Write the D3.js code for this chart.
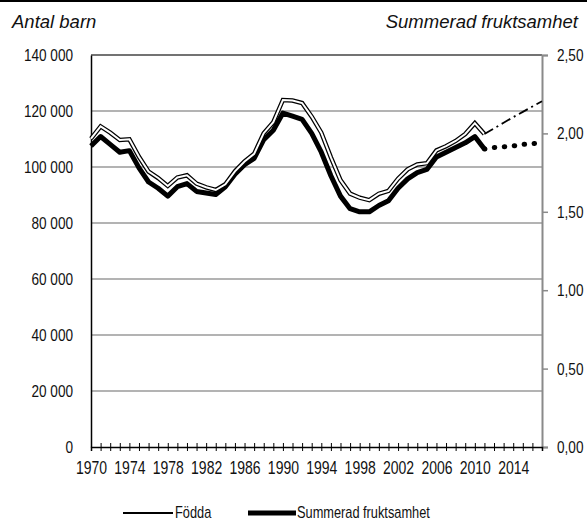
<!DOCTYPE html>
<html>
<head>
<meta charset="utf-8">
<script src="https://cdn.jsdelivr.net/npm/d3@7"></script>
<style>
  body { margin: 0; background: #fff; }
  text { font-family: "Liberation Sans", Arial, sans-serif; fill: #111; }
  .title { font-style: italic; font-size: 18.5px; }
</style>
</head>
<body>
<div id="chart"></div>
<script>
'use strict';

// utfall
const years = [1970, 1971, 1972, 1973, 1974, 1975, 1976, 1977, 1978, 1979,
               1980, 1981, 1982, 1983, 1984, 1985, 1986, 1987, 1988, 1989,
               1990, 1991, 1992, 1993, 1994, 1995, 1996, 1997, 1998, 1999,
               2000, 2001, 2002, 2003, 2004, 2005, 2006, 2007, 2008, 2009,
               2010, 2011];
const fodda = [110150, 114484, 112273, 109663, 109874, 103632, 98345, 96057, 93248, 96255,
               97064, 94065, 92748, 91780, 93819, 98463, 101950, 104699, 112080, 116023,
               123938, 123737, 122848, 117998, 112257, 103422, 95297, 90502, 89028, 88173,
               90441, 91466, 95815, 99157, 100928, 101346, 105913, 107421, 109301, 111801,
               115641, 111770];
const fruktsamhet = [1.92, 1.98, 1.93, 1.88, 1.89, 1.78, 1.69, 1.65, 1.60, 1.66,
                     1.68, 1.63, 1.62, 1.61, 1.66, 1.74, 1.80, 1.84, 1.96, 2.02,
                     2.13, 2.11, 2.09, 2.00, 1.88, 1.73, 1.60, 1.52, 1.50, 1.50,
                     1.54, 1.57, 1.65, 1.71, 1.75, 1.77, 1.85, 1.88, 1.91, 1.94,
                     1.98, 1.90];

// prognos
const prognosYears = [2011, 2012, 2013, 2014, 2015, 2016, 2017];
const foddaPrognos = [111770, 113800, 115800, 117800, 119700, 121600, 123500];
const fruktsamhetPrognos = [1.90, 1.91, 1.915, 1.92, 1.93, 1.935, 1.94];

const leftTicks = [0, 20000, 40000, 60000, 80000, 100000, 120000, 140000];
const rightTicks = [0, 0.5, 1.0, 1.5, 2.0, 2.5];
const tickYears = [1970, 1971, 1972, 1973, 1974, 1975, 1976, 1977, 1978, 1979,
                   1980, 1981, 1982, 1983, 1984, 1985, 1986, 1987, 1988, 1989,
                   1990, 1991, 1992, 1993, 1994, 1995, 1996, 1997, 1998, 1999,
                   2000, 2001, 2002, 2003, 2004, 2005, 2006, 2007, 2008, 2009,
                   2010, 2011, 2012, 2013, 2014, 2015, 2016];
const labelYears = [1970, 1974, 1978, 1982, 1986, 1990, 1994, 1998, 2002, 2006, 2010, 2014];

const width = 587, height = 521;
const margin = {top: 55, right: 45, bottom: 74, left: 91};

const sv = d3.formatLocale({decimal: ",", thousands: " ", grouping: [3], currency: ["", " kr"]});
const fmtLeft = sv.format(",");
const fmtRight = sv.format(".2f");

const x = d3.scaleLinear().domain([1970, 2017]).range([margin.left, width - margin.right]);
const y = d3.scaleLinear().domain([0, 140000]).range([height - margin.bottom, margin.top]);
const yR = d3.scaleLinear().domain([0, 2.5]).range([height - margin.bottom, margin.top]);

const svg = d3.select("#chart").append("svg")
    .attr("width", width)
    .attr("height", height);

// squeeze a text horizontally round its anchor, stands in for a condensed face
const squeeze = 0.8;
function narrow (sel) {
  sel.each(function () {
    let ax = +d3.select(this).attr("x") || 0;
    d3.select(this).attr("transform",
      "translate(" + (ax * (1 - squeeze)) + ",0) scale(" + squeeze + ",1)");
  });
}

// top rule
svg.append("line")
    .attr("x1", 0).attr("x2", width).attr("y1", 1).attr("y2", 1)
    .attr("stroke", "#000").attr("stroke-width", 2);

svg.append("text").attr("class", "title")
    .attr("x", 12).attr("y", 28).text("Antal barn");
svg.append("text").attr("class", "title")
    .attr("x", 578).attr("y", 28).attr("text-anchor", "end").text("Summerad fruktsamhet");

// gridlines
svg.append("g").selectAll("line")
  .data(leftTicks.filter(d => d > 0))
  .enter().append("line")
    .attr("x1", x(1970)).attr("x2", x(2017))
    .attr("y1", d => y(d)).attr("y2", d => y(d))
    .attr("stroke", d => d === 140000 ? "#444" : "#9a9a9a")
    .attr("stroke-width", 1.5);

// left axis
let gLeft = svg.append("g")
    .attr("transform", "translate(" + margin.left + ",0)")
    .call(d3.axisLeft(y).tickValues(leftTicks).tickFormat(fmtLeft).tickSize(0).tickPadding(18));
gLeft.select(".domain").attr("stroke", "#000").attr("stroke-width", 1.5);

// right axis
let gRight = svg.append("g")
    .attr("transform", "translate(" + (width - margin.right) + ",0)")
    .call(d3.axisRight(yR).tickValues(rightTicks).tickFormat(fmtRight).tickSize(6).tickPadding(9));
gRight.select(".domain").attr("stroke", "#8a8a8a").attr("stroke-width", 2);
gRight.selectAll(".tick line").attr("stroke", "#8a8a8a").attr("stroke-width", 1.5);

// x axis
let gX = svg.append("g")
    .attr("transform", "translate(0," + (height - margin.bottom) + ")")
    .call(d3.axisBottom(x).tickValues(tickYears)
      .tickFormat(d => labelYears.indexOf(d) >= 0 ? d : "")
      .tickSize(4).tickPadding(11));
gX.select(".domain").attr("stroke", "#000").attr("stroke-width", 1.5);
gX.selectAll(".tick line").attr("y1", -4).attr("y2", 4).attr("stroke", "#000");

// d3 axes set a font on the group; let the stylesheet win
svg.selectAll("g").attr("font-family", null).attr("font-size", null);
gLeft.selectAll("text").style("font-size", "17px").call(narrow);
gRight.selectAll("text").style("font-size", "17px").call(narrow);
gX.selectAll("text").style("font-size", "17.5px").call(narrow);

const fodLine = d3.line().x(d => x(d[0])).y(d => y(d[1]));
const tfrLine = d3.line().x(d => x(d[0])).y(d => yR(d[1]));

const fodData = years.map((c, i) => [c, fodda[i]]);
const tfrData = years.map((c, i) => [c, fruktsamhet[i]]);
const fodProg = prognosYears.map((c, i) => [c, foddaPrognos[i]]);
const tfrProg = prognosYears.map((c, i) => [c, fruktsamhetPrognos[i]]);

// summerad fruktsamhet
svg.append("path")
    .attr("d", tfrLine(tfrData))
    .attr("fill", "none").attr("stroke", "#000").attr("stroke-width", 5)
    .attr("stroke-linejoin", "round");
svg.append("path")
    .attr("d", tfrLine(tfrProg))
    .attr("fill", "none").attr("stroke", "#000").attr("stroke-width", 5)
    .attr("stroke-dasharray", "0.5,9.5").attr("stroke-linecap", "round");

// födda (hollow line)
svg.append("path")
    .attr("d", fodLine(fodData))
    .attr("fill", "none").attr("stroke", "#000").attr("stroke-width", 4.5);
svg.append("path")
    .attr("d", fodLine(fodData))
    .attr("fill", "none").attr("stroke", "#fff").attr("stroke-width", 2);
svg.append("path")
    .attr("d", fodLine(fodProg))
    .attr("fill", "none").attr("stroke", "#000").attr("stroke-width", 1.8)
    .attr("stroke-dasharray", "10,4,2,4");

// legend
let legend = svg.append("g").attr("transform", "translate(0,513)");
legend.append("line").attr("x1", 123).attr("x2", 173).attr("y1", 0).attr("y2", 0)
    .attr("stroke", "#000").attr("stroke-width", 2);
legend.append("text").attr("x", 175).attr("y", 5).style("font-size", "16px").text("Födda").call(narrow);
legend.append("line").attr("x1", 248).attr("x2", 296).attr("y1", 0).attr("y2", 0)
    .attr("stroke", "#000").attr("stroke-width", 5);
legend.append("text").attr("x", 297).attr("y", 5).style("font-size", "16px").text("Summerad fruktsamhet").call(narrow);
</script>
</body>
</html>
